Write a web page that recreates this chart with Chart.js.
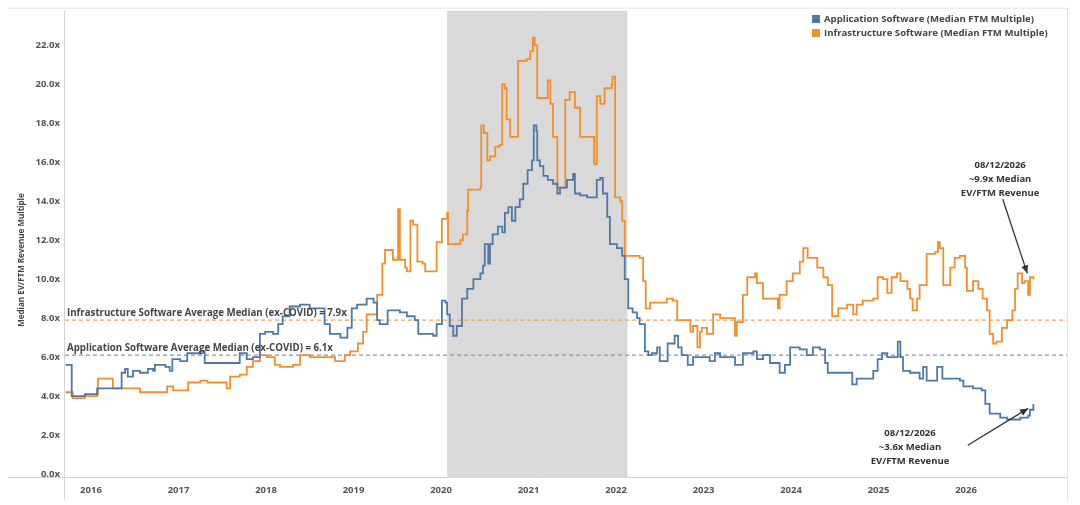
<!DOCTYPE html>
<html>
<head>
<meta charset="utf-8">
<script src="https://cdn.jsdelivr.net/npm/chart.js@4.4.1/dist/chart.umd.min.js"></script>
<style>
html,body{margin:0;padding:0;background:#fff;}
#wrap{width:1080px;height:505px;position:relative;}
</style>
</head>
<body>
<div id="wrap"><canvas id="c"></canvas></div>
<script>
// ---------- DATA ----------
const seriesNames = ["Application Software (Median FTM Multiple)", "Infrastructure Software (Median FTM Multiple)"];
const yearTicks = [2016, 2017, 2018, 2019, 2020, 2021, 2022, 2023, 2024, 2025, 2026];
const yTicks = [0, 2, 4, 6, 8, 10, 12, 14, 16, 18, 20, 22];
const covidStart = 2020.07;
const covidEnd = 2022.13;
const infraAvg = 7.9;
const appAvg = 6.1;
const infraAvgLabel = "Infrastructure Software Average Median (ex-COVID) = 7.9x";
const appAvgLabel = "Application Software Average Median (ex-COVID) = 6.1x";
const yTitle = "Median EV/FTM Revenue Multiple";
const infraNote = ["08/12/2026", "~9.9x Median", "EV/FTM Revenue"];
const appNote = ["08/12/2026", "~3.6x Median", "EV/FTM Revenue"];

const appYears = [2015.71,2015.77,2015.78,2015.93,2016.07,2016.34,2016.35,2016.39,2016.42,2016.48,2016.56,2016.65,2016.71,2016.73,2016.85,2016.90,2016.93,2017.02,2017.10,2017.25,2017.30,2017.62,2017.70,2017.78,2017.85,2017.93,2017.99,2018.08,2018.14,2018.19,2018.27,2018.39,2018.50,2018.59,2018.67,2018.73,2018.85,2018.93,2018.98,2019.04,2019.15,2019.23,2019.27,2019.30,2019.39,2019.53,2019.61,2019.70,2019.74,2019.91,2019.95,2020.01,2020.05,2020.07,2020.10,2020.14,2020.18,2020.24,2020.30,2020.37,2020.45,2020.48,2020.50,2020.54,2020.56,2020.59,2020.65,2020.70,2020.73,2020.77,2020.81,2020.85,2020.90,2020.94,2020.99,2021.04,2021.06,2021.09,2021.10,2021.13,2021.17,2021.22,2021.28,2021.33,2021.36,2021.44,2021.51,2021.53,2021.59,2021.67,2021.76,2021.78,2021.82,2021.85,2021.90,2021.93,2022.01,2022.07,2022.10,2022.14,2022.19,2022.24,2022.27,2022.33,2022.37,2022.41,2022.47,2022.50,2022.56,2022.59,2022.67,2022.71,2022.75,2022.82,2022.88,2023.04,2023.07,2023.13,2023.19,2023.34,2023.36,2023.45,2023.57,2023.61,2023.68,2023.76,2023.85,2023.87,2023.93,2023.99,2024.10,2024.18,2024.25,2024.33,2024.39,2024.42,2024.65,2024.70,2024.75,2024.90,2024.94,2024.99,2025.04,2025.10,2025.21,2025.22,2025.25,2025.28,2025.36,2025.47,2025.51,2025.55,2025.65,2025.67,2025.73,2025.82,2025.93,2025.97,2026.08,2026.18,2026.22,2026.27,2026.39,2026.47,2026.62,2026.71,2026.73,2026.77];
const appValues = [5.6,5.6,4.0,4.1,4.4,4.4,5.2,5.4,5.0,5.3,5.2,5.4,5.3,5.6,5.5,5.3,5.9,5.8,6.2,6.3,5.7,5.7,6.2,5.9,6.0,7.2,7.3,7.2,7.7,8.1,8.6,8.7,8.5,8.5,7.7,7.2,7.0,7.5,8.5,8.7,9.0,8.8,7.9,7.7,8.4,8.3,8.1,7.9,7.2,7.1,7.7,8.9,8.8,8.2,7.6,7.1,7.6,9.0,9.5,10.0,10.3,10.7,11.8,10.8,11.8,12.3,12.7,12.4,13.4,13.7,13.0,13.7,14.1,14.9,15.6,16.1,17.9,17.6,16.1,15.8,15.3,15.1,14.9,14.4,14.7,15.1,15.4,14.4,14.3,14.2,14.2,15.1,15.2,14.4,13.2,11.8,11.6,11.2,10.0,8.5,8.3,8.0,7.7,6.3,6.1,6.2,6.5,5.8,5.8,6.7,7.1,6.5,6.1,5.6,6.0,6.0,5.8,6.2,6.0,6.0,5.6,6.2,6.3,5.9,6.1,5.7,5.7,5.2,5.6,6.5,6.4,6.1,6.5,6.4,5.7,5.2,5.2,4.6,4.9,4.9,5.3,5.9,6.2,6.0,6.0,6.8,6.0,5.3,5.2,4.9,5.5,4.8,4.8,5.5,4.9,4.9,4.8,4.5,4.4,4.3,3.6,3.1,2.9,2.8,2.9,3.0,3.3,3.6];

const infraYears = [2015.71,2015.77,2015.79,2015.93,2016.07,2016.08,2016.24,2016.25,2016.56,2016.79,2016.87,2016.94,2017.11,2017.25,2017.33,2017.55,2017.59,2017.70,2017.78,2017.85,2017.93,2018.01,2018.10,2018.16,2018.31,2018.39,2018.50,2018.79,2018.90,2018.96,2019.05,2019.11,2019.15,2019.27,2019.33,2019.36,2019.45,2019.51,2019.53,2019.59,2019.61,2019.65,2019.68,2019.73,2019.79,2019.82,2019.95,2020.01,2020.07,2020.08,2020.22,2020.25,2020.30,2020.31,2020.45,2020.46,2020.49,2020.53,2020.56,2020.62,2020.67,2020.70,2020.73,2020.75,2020.79,2020.88,2020.98,2021.02,2021.05,2021.07,2021.10,2021.22,2021.25,2021.28,2021.33,2021.42,2021.47,2021.53,2021.59,2021.75,2021.78,2021.82,2021.87,2021.95,2021.96,2021.99,2022.05,2022.07,2022.10,2022.27,2022.31,2022.34,2022.39,2022.58,2022.65,2022.70,2022.85,2022.88,2022.93,2022.96,2022.98,2023.04,2023.11,2023.19,2023.36,2023.38,2023.45,2023.50,2023.59,2023.61,2023.68,2023.85,2023.87,2023.95,2024.02,2024.10,2024.14,2024.19,2024.30,2024.37,2024.42,2024.47,2024.54,2024.64,2024.71,2024.75,2024.82,2024.94,2024.99,2025.05,2025.10,2025.15,2025.21,2025.25,2025.33,2025.36,2025.39,2025.44,2025.47,2025.55,2025.65,2025.68,2025.70,2025.74,2025.82,2025.87,2025.93,2025.99,2026.01,2026.08,2026.14,2026.19,2026.24,2026.27,2026.31,2026.35,2026.41,2026.47,2026.53,2026.56,2026.59,2026.64,2026.67,2026.71,2026.73,2026.77];
const infraValues = [4.2,4.2,3.9,4.0,4.1,4.9,4.9,4.4,4.2,4.2,4.5,4.3,4.7,4.8,4.7,4.4,5.0,5.1,5.5,5.8,6.1,6.0,5.6,5.5,5.6,6.1,6.0,5.8,6.1,6.3,6.7,7.3,8.2,9.2,10.8,11.5,11.0,13.6,11.0,10.6,10.4,13.0,12.8,10.9,10.8,10.4,11.9,13.1,13.4,11.8,12.0,12.3,13.5,14.6,14.7,17.9,17.5,16.1,16.3,16.8,16.9,20.0,19.8,18.2,17.3,21.2,21.3,21.7,22.4,22.0,19.3,20.2,19.0,17.3,14.7,19.2,19.6,18.8,17.3,15.9,19.4,19.0,19.8,20.0,20.4,14.2,14.0,13.0,11.2,11.1,9.9,8.5,8.8,9.0,8.9,7.9,7.3,7.6,6.5,7.3,7.5,7.2,8.2,8.0,7.1,7.8,9.2,10.1,10.3,9.8,9.0,8.5,9.2,9.9,10.3,10.9,11.6,11.1,10.6,10.1,9.7,8.1,8.5,8.7,8.2,8.7,8.9,9.0,10.1,10.0,9.3,10.1,10.3,9.9,9.5,9.0,8.4,9.0,9.7,11.3,11.4,11.9,11.6,9.7,10.6,11.1,11.2,10.6,9.4,9.9,9.5,9.0,8.4,7.2,6.7,6.8,7.5,7.9,8.4,9.5,10.3,9.8,9.9,9.2,10.1,10.0];

// annotation anchors in data units (year, value)
const infraArrow = {from: [2026.42, 14.1], to: [2026.70, 10.3], text: [2026.39, 15.87]};
const appArrow = {from: [2026.02, 1.48], to: [2026.71, 3.37], text: [2025.36, 2.09]};

// ---------- STYLE ----------
const BLUE = "#4e79a7";
const ORANGE = "#f28e2b";
const TXT = "#555555";
const FONT = "'Open Sans'";

function toPts(xs, ys){ return xs.map((x,i)=>({x:x, y:ys[i]})); }

function arrow(ctx, x1, y1, x2, y2){
  ctx.save();
  ctx.strokeStyle = "#333"; ctx.fillStyle = "#333"; ctx.lineWidth = 1.3;
  ctx.beginPath(); ctx.moveTo(x1,y1); ctx.lineTo(x2,y2); ctx.stroke();
  const a = Math.atan2(y2-y1, x2-x1), L = 8, W = 3.5;
  ctx.beginPath();
  ctx.moveTo(x2,y2);
  ctx.lineTo(x2 - L*Math.cos(a) + W*Math.sin(a), y2 - L*Math.sin(a) - W*Math.cos(a));
  ctx.lineTo(x2 - L*Math.cos(a) - W*Math.sin(a), y2 - L*Math.sin(a) + W*Math.cos(a));
  ctx.closePath(); ctx.fill();
  ctx.restore();
}

const decor = {
  id: "decor",
  beforeDraw(chart){
    const ctx = chart.ctx;
    ctx.save();
    ctx.fillStyle = "#fff"; ctx.fillRect(0,0,chart.width,chart.height);
    ctx.restore();
  },
  beforeDatasetsDraw(chart){
    const ctx = chart.ctx, ca = chart.chartArea, xs = chart.scales.x, ys = chart.scales.y;
    ctx.save();
    const x1 = xs.getPixelForValue(covidStart), x2 = xs.getPixelForValue(covidEnd);
    ctx.fillStyle = "#d9d9d9";
    ctx.fillRect(x1, ca.top, x2-x1, ca.bottom-ca.top);
    ctx.strokeStyle = "#e4e4e4"; ctx.lineWidth = 1;
    ctx.beginPath();
    ctx.moveTo(8, ca.top-2.5); ctx.lineTo(ca.right, ca.top-2.5);
    ctx.moveTo(ca.right+0.5, ca.top-3); ctx.lineTo(ca.right+0.5, 500);
    ctx.stroke();
    ctx.strokeStyle = "#d4d4d4";
    ctx.beginPath();
    ctx.moveTo(ca.left-0.5, ca.top); ctx.lineTo(ca.left-0.5, 500);
    ctx.moveTo(8, ca.bottom+0.5); ctx.lineTo(ca.right, ca.bottom+0.5);
    ctx.stroke();
    ctx.lineWidth = 1.2;
    ctx.setLineDash([4,3]);
    let y = ys.getPixelForValue(infraAvg);
    ctx.strokeStyle = "#eaa85a";
    ctx.beginPath(); ctx.moveTo(ca.left, y); ctx.lineTo(ca.right, y); ctx.stroke();
    y = ys.getPixelForValue(appAvg);
    ctx.strokeStyle = "#8899b0";
    ctx.beginPath(); ctx.moveTo(ca.left, y); ctx.lineTo(ca.right, y); ctx.stroke();
    ctx.restore();
  },
  afterDatasetsDraw(chart){
    const ctx = chart.ctx, ca = chart.chartArea, xs = chart.scales.x, ys = chart.scales.y;
    ctx.save();
    ctx.font = "bold 9.7px " + FONT;
    ctx.fillStyle = "#444";
    ctx.textAlign = "left"; ctx.textBaseline = "alphabetic";
    ctx.fillText(infraAvgLabel, ca.left + 2, ys.getPixelForValue(infraAvg) - 4);
    ctx.fillText(appAvgLabel, ca.left + 2, ys.getPixelForValue(appAvg) - 4);

    ctx.font = "bold 9.6px " + FONT;
    ctx.textBaseline = "middle";
    const lx = 812;
    [[BLUE, seriesNames[0], 19], [ORANGE, seriesNames[1], 33]].forEach(([c,t,yy])=>{
      ctx.fillStyle = c; ctx.fillRect(lx, yy-4, 8, 8);
      ctx.fillStyle = "#444"; ctx.fillText(t, lx + 12, yy);
    });

    ctx.textAlign = "center";
    ctx.fillStyle = "#333";
    ctx.font = "bold 9.5px " + FONT;
    const draw = (a, lines)=>{
      const tx = xs.getPixelForValue(a.text[0]), ty = ys.getPixelForValue(a.text[1]);
      lines.forEach((l,i)=> ctx.fillText(l, tx, ty + i*14));
      arrow(ctx, xs.getPixelForValue(a.from[0]), ys.getPixelForValue(a.from[1]),
                 xs.getPixelForValue(a.to[0]), ys.getPixelForValue(a.to[1]));
    };
    draw(infraArrow, infraNote);
    draw(appArrow, appNote);

    ctx.save();
    ctx.translate(22, 260);
    ctx.rotate(-Math.PI/2);
    ctx.textAlign = "center"; ctx.textBaseline = "middle";
    ctx.fillStyle = "#444";
    ctx.font = "bold 8px " + FONT;
    ctx.fillText(yTitle, 0, 0);
    ctx.restore();
    ctx.restore();
  }
};

const chart = new Chart(document.getElementById("c"), {
  type: "line",
  data: {
    datasets: [
      { label: seriesNames[0], data: toPts(appYears, appValues), borderColor: BLUE, borderWidth: 1.8, pointRadius: 0, stepped: true, fill: false },
      { label: seriesNames[1], data: toPts(infraYears, infraValues), borderColor: ORANGE, borderWidth: 1.8, pointRadius: 0, stepped: true, fill: false }
    ]
  },
  options: {
    responsive: true,
    maintainAspectRatio: false,
    animation: false,
    devicePixelRatio: 1,
    layout: { padding: { left: 0, right: 13, top: 8, bottom: 0 } },
    plugins: { legend: { display: false }, tooltip: { enabled: false } },
    scales: {
      x: {
        type: "linear",
        min: 2015.703, max: 2027.154,
        afterBuildTicks: s => { s.ticks = yearTicks.map(v => ({ value: v })); },
        afterFit: s => { s.height = 28; },
        grid: { display: false, drawTicks: false },
        border: { display: false },
        ticks: { padding: 8, maxRotation: 0, autoSkip: false, color: TXT, font: { family: "Open Sans", size: 9.5, weight: "bold" }, callback: v => String(v) }
      },
      y: {
        type: "linear",
        min: -0.15, max: 23.78,
        afterBuildTicks: s => { s.ticks = yTicks.map(v => ({ value: v })); },
        afterFit: s => { s.width = 65; },
        grid: { display: false, drawTicks: false },
        border: { display: false },
        ticks: { padding: 5, color: TXT, font: { family: "Open Sans", size: 9.5, weight: "bold" }, callback: v => v.toFixed(1) + "x" }
      }
    }
  },
  plugins: [decor]
});
</script>
</body>
</html>
